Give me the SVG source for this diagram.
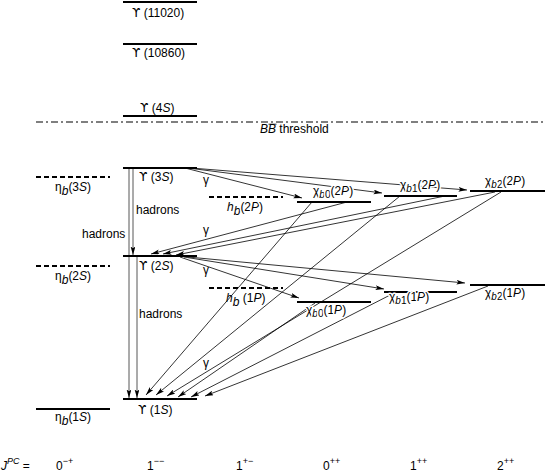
<svg xmlns="http://www.w3.org/2000/svg" width="545" height="472" viewBox="0 0 545 472">
<style>
text{font-family:"Liberation Sans","DejaVu Sans",sans-serif;font-size:12px;fill:#000}
.i{font-style:italic}
.s{font-size:10px}
.sup{font-size:9px}
.u{font-family:"DejaVu Sans",sans-serif;font-size:12px}
.halo{stroke:#fff;stroke-width:3;paint-order:stroke;stroke-linejoin:round}
.lv{stroke:#000;stroke-width:2;fill:none}
.dash{stroke:#000;stroke-width:2;stroke-dasharray:5,3;fill:none}
.thr{stroke:#000;stroke-width:1.1;stroke-dasharray:7,3,2,3;fill:none}
.ar{stroke:#000;stroke-width:0.8;fill:none;marker-end:url(#ah)}
.vr{stroke:#444;stroke-width:0.9;fill:none;marker-end:url(#ah)}
</style>
<defs>
<marker id="ah" markerUnits="userSpaceOnUse" markerWidth="9" markerHeight="5" refX="8.5" refY="2.4" orient="auto">
<path d="M0,0 L8.5,2.4 L0,4.8 L1.8,2.4 Z" fill="#000"/>
</marker>
</defs>
<rect width="545" height="472" fill="#fff"/>

<g id="threshold">
<line class="thr" x1="36" y1="122" x2="545" y2="122"/>
<text x="260" y="133"><tspan class="i">BB</tspan> threshold</text>
<line x1="268.5" y1="124.2" x2="276.5" y2="124.2" stroke="#000" stroke-width="0.8"/>
</g>

<g id="connectors">
<line class="vr" x1="129" y1="169" x2="129" y2="398"/>
<line class="vr" x1="133" y1="169" x2="133" y2="255"/>
<line class="vr" x1="137" y1="257" x2="137" y2="398"/>
<line class="ar" x1="185" y1="168" x2="302" y2="198"/>
<line class="ar" x1="188" y1="168" x2="382" y2="193"/>
<line class="ar" x1="191" y1="168" x2="467" y2="190"/>
<line class="ar" x1="347" y1="202" x2="151" y2="254"/>
<line class="ar" x1="445" y1="196" x2="163" y2="254"/>
<line class="ar" x1="495" y1="192" x2="176" y2="255"/>
<line class="ar" x1="180" y1="257" x2="299" y2="298"/>
<line class="ar" x1="184" y1="257" x2="384" y2="289"/>
<line class="ar" x1="188" y1="257" x2="465" y2="283"/>
<line class="ar" x1="312" y1="202" x2="146" y2="395"/>
<line class="ar" x1="400" y1="196" x2="156" y2="395"/>
<line class="ar" x1="501" y1="192" x2="167" y2="396"/>
<line class="ar" x1="315" y1="303" x2="178" y2="397"/>
<line class="ar" x1="396" y1="292" x2="191" y2="397"/>
<line class="ar" x1="488" y1="286" x2="205" y2="396"/>
<text x="203" y="184">γ</text>
<text x="203" y="234">γ</text>
<text x="203" y="274">γ</text>
<text x="203" y="367">γ</text>
<text x="136" y="214">hadrons</text>
<text x="82" y="238">hadrons</text>
<text x="139" y="318">hadrons</text>
</g>

<g id="Y11020">
<line class="lv" x1="123" y1="2" x2="197" y2="2"/>
<text x="132" y="17"><tspan class="u">ϒ</tspan> (11020)</text>
</g>
<g id="Y10860">
<line class="lv" x1="123" y1="44" x2="197" y2="44"/>
<text x="132" y="57"><tspan class="u">ϒ</tspan> (10860)</text>
</g>
<g id="Y4S">
<line class="lv" x1="123" y1="116" x2="197" y2="116"/>
<text x="140" y="112"><tspan class="u">ϒ</tspan> (4<tspan class="i">S</tspan>)</text>
</g>
<g id="Y3S">
<line class="lv" x1="123" y1="168" x2="197" y2="168"/>
<text x="139" y="181"><tspan class="u">ϒ</tspan> (3<tspan class="i">S</tspan>)</text>
</g>
<g id="Y2S">
<line class="lv" x1="123" y1="256" x2="197" y2="256"/>
<text x="139" y="270"><tspan class="u">ϒ</tspan> (2<tspan class="i">S</tspan>)</text>
</g>
<g id="Y1S">
<line class="lv" x1="123" y1="399" x2="197" y2="399"/>
<text x="138" y="414"><tspan class="u">ϒ</tspan> (1<tspan class="i">S</tspan>)</text>
</g>

<g id="etab3S">
<line class="dash" x1="36" y1="177" x2="110" y2="177"/>
<text x="55" y="191">η<tspan class="i" dy="4">b</tspan><tspan dy="-4">(3</tspan><tspan class="i">S</tspan>)</text>
</g>
<g id="etab2S">
<line class="dash" x1="36" y1="266" x2="110" y2="266"/>
<text x="55" y="280">η<tspan class="i" dy="4">b</tspan><tspan dy="-4">(2</tspan><tspan class="i">S</tspan>)</text>
</g>
<g id="etab1S">
<line class="lv" x1="36" y1="409" x2="110" y2="409"/>
<text x="55" y="421">η<tspan class="i" dy="4">b</tspan><tspan dy="-4">(1</tspan><tspan class="i">S</tspan>)</text>
</g>

<g id="hb2P">
<line class="dash" x1="209" y1="197" x2="283" y2="197"/>
<text class="halo" x="227" y="211"><tspan class="i">h</tspan><tspan class="i" dy="4">b</tspan><tspan dy="-4">(2</tspan><tspan class="i">P</tspan>)</text>
</g>
<g id="hb1P">
<line class="dash" x1="209" y1="288" x2="283" y2="288"/>
<text x="226" y="302"><tspan class="i">h</tspan><tspan class="i" dy="4">b</tspan><tspan dy="-4"> (1</tspan><tspan class="i">P</tspan>)</text>
</g>

<g id="chib02P">
<line class="lv" x1="297" y1="202" x2="371" y2="202"/>
<text class="halo" x="313" y="195">χ<tspan class="s" dy="3"><tspan class="i">b</tspan>0</tspan><tspan dy="-3">(2</tspan><tspan class="i">P</tspan>)</text>
</g>
<g id="chib12P">
<line class="lv" x1="384" y1="196" x2="457" y2="196"/>
<text class="halo" x="400" y="189">χ<tspan class="s" dy="3"><tspan class="i">b</tspan>1</tspan><tspan dy="-3">(2</tspan><tspan class="i">P</tspan>)</text>
</g>
<g id="chib22P">
<line class="lv" x1="470" y1="191" x2="545" y2="191"/>
<text class="halo" x="485" y="185">χ<tspan class="s" dy="3"><tspan class="i">b</tspan>2</tspan><tspan dy="-3">(2</tspan><tspan class="i">P</tspan>)</text>
</g>
<g id="chib01P">
<line class="lv" x1="297" y1="302" x2="371" y2="302"/>
<text class="halo" x="306" y="314">χ<tspan class="s" dy="3"><tspan class="i">b</tspan>0</tspan><tspan dy="-3">(1</tspan><tspan class="i">P</tspan>)</text>
</g>
<g id="chib11P">
<line class="lv" x1="384" y1="292" x2="457" y2="292"/>
<text class="halo" x="389" y="301">χ<tspan class="s" dy="3"><tspan class="i">b</tspan>1</tspan><tspan dy="-3">(1</tspan><tspan class="i">P</tspan>)</text>
</g>
<g id="chib21P">
<line class="lv" x1="470" y1="285" x2="545" y2="285"/>
<text class="halo" x="485" y="297">χ<tspan class="s" dy="3"><tspan class="i">b</tspan>2</tspan><tspan dy="-3">(1</tspan><tspan class="i">P</tspan>)</text>
</g>

<g id="jpc">
<text x="1" y="470"><tspan class="i">J</tspan><tspan class="sup i" dy="-6">PC</tspan><tspan dy="6"> =</tspan></text>
<text x="56" y="470">0<tspan class="sup" dy="-6">−+</tspan></text>
<text x="147" y="470">1<tspan class="sup" dy="-6">−−</tspan></text>
<text x="236" y="470">1<tspan class="sup" dy="-6">+−</tspan></text>
<text x="323" y="470">0<tspan class="sup" dy="-6">++</tspan></text>
<text x="410" y="470">1<tspan class="sup" dy="-6">++</tspan></text>
<text x="497" y="470">2<tspan class="sup" dy="-6">++</tspan></text>
</g>
</svg>
